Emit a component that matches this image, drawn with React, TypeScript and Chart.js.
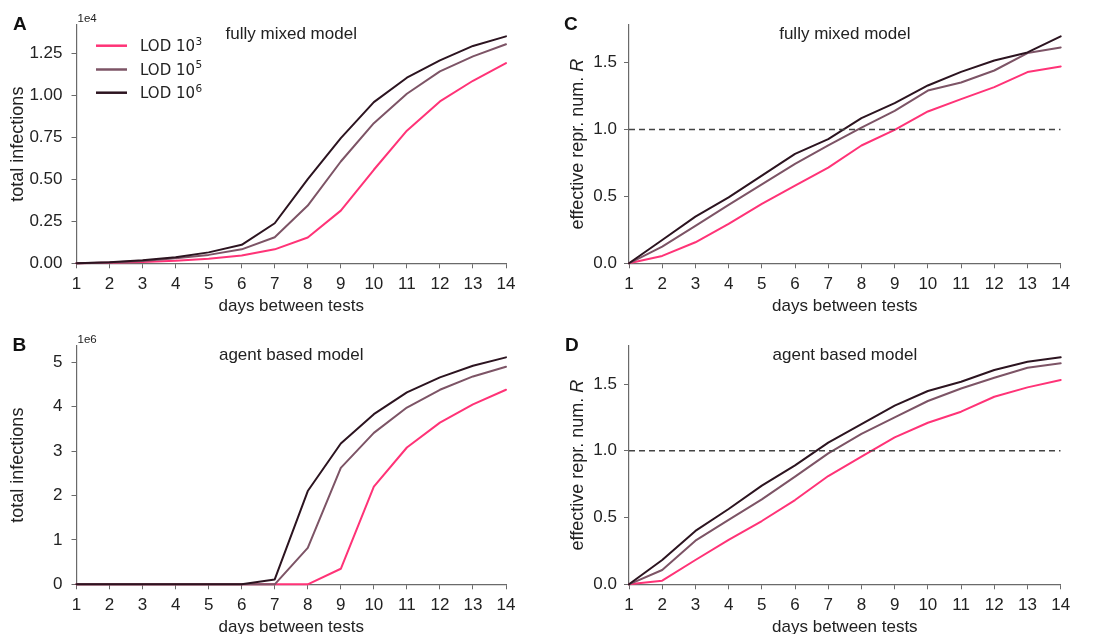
import React, { useEffect, useRef } from "react";
import { Chart, registerables } from "chart.js";

Chart.register(...registerables);

const FONT = '"Liberation Sans", Arial, Helvetica, sans-serif';
const LEGEND_FONT = '"DejaVu Sans", "Liberation Sans", sans-serif';
const TEXT = "#222222";
const AXIS = "#6a6a6a";

// ---------- data ----------
const days = [1, 2, 3, 4, 5, 6, 7, 8, 9, 10, 11, 12, 13, 14];
const lodBase = "LOD 10";
const lodExponents = ["3", "5", "6"];
const lodColors = ["#ff3377", "#7d5466", "#2c1420"];

// A: fully mixed model, total infections
const mixedInfLod3 = [0, 30, 80, 150, 270, 460, 830, 1530, 3130, 5560, 7880, 9620, 10850, 11900];
const mixedInfLod5 = [0, 50, 140, 300, 500, 830, 1550, 3430, 6050, 8330, 10080, 11410, 12300, 13020];
const mixedInfLod6 = [0, 60, 180, 360, 650, 1100, 2380, 5000, 7440, 9580, 11030, 12060, 12920, 13490];

// B: agent based model, total infections
const agentInfLod3 = [0, 0, 0, 0, 0, 0, 0, 0, 350000, 2200000, 3080000, 3640000, 4050000, 4380000];
const agentInfLod5 = [0, 0, 0, 0, 0, 0, 0, 820000, 2620000, 3410000, 3980000, 4380000, 4680000, 4900000];
const agentInfLod6 = [0, 0, 0, 0, 0, 0, 110000, 2100000, 3170000, 3830000, 4320000, 4660000, 4920000, 5110000];

// C: fully mixed model, effective R
const mixedRLod3 = [0, 0.055, 0.157, 0.294, 0.444, 0.581, 0.715, 0.88, 0.997, 1.134, 1.226, 1.316, 1.428, 1.47];
const mixedRLod5 = [0, 0.125, 0.279, 0.436, 0.59, 0.743, 0.88, 1.014, 1.139, 1.29, 1.35, 1.44, 1.57, 1.612];
const mixedRLod6 = [0, 0.174, 0.349, 0.493, 0.655, 0.817, 0.927, 1.084, 1.196, 1.328, 1.43, 1.515, 1.575, 1.695];

// D: agent based model, effective R
const agentRLod3 = [0, 0.027, 0.182, 0.332, 0.474, 0.631, 0.811, 0.956, 1.1, 1.21, 1.293, 1.405, 1.475, 1.53];
const agentRLod5 = [0, 0.107, 0.327, 0.482, 0.636, 0.806, 0.981, 1.126, 1.25, 1.373, 1.467, 1.547, 1.622, 1.655];
const agentRLod6 = [0, 0.182, 0.4, 0.564, 0.739, 0.891, 1.061, 1.2, 1.338, 1.448, 1.517, 1.605, 1.667, 1.7];

const thresholdR = 1.0;

const infTicksMixed = [0, 2500, 5000, 7500, 10000, 12500];
const infTicksAgent = [0, 1000000, 2000000, 3000000, 4000000, 5000000];
const rTicks = [0, 0.5, 1.0, 1.5];

const xTitle = "days between tests";
const yTitleInf = "total infections";
const yTitleR = "effective repr. num. ";
const yTitleRItalic = "R";
const titleMixed = "fully mixed model";
const titleAgent = "agent based model";

// ---------- drawing ----------
const CANVAS_H = 320;
const AREA_TOP = 25;
const AREA_BOTTOM = 263.3;

const decorPlugin = {
  id: "decor",
  afterDraw(chart: any, _args: any, opts: any) {
    const { ctx, chartArea } = chart;
    ctx.save();
    ctx.fillStyle = TEXT;
    // panel letter
    ctx.font = `bold 19px ${FONT}`;
    ctx.textAlign = "left";
    ctx.textBaseline = "alphabetic";
    ctx.fillStyle = "#111";
    ctx.fillText(opts.letter, opts.letterX, 29.5);
    ctx.fillStyle = TEXT;
    // offset text
    if (opts.offsetText) {
      ctx.font = `11.5px ${FONT}`;
      ctx.fillText(opts.offsetText, chartArea.left + 1, 21.8);
    }
    // title
    ctx.font = `17px ${FONT}`;
    ctx.textAlign = "center";
    ctx.fillText(opts.title, (chartArea.left + chartArea.right) / 2, 38.8);
    // y title with italic R
    if (opts.italicTitle) {
      const normalFont = `18px ${FONT}`;
      const italicFont = `italic 18px ${FONT}`;
      ctx.font = normalFont;
      const w1 = ctx.measureText(opts.italicTitle[0]).width;
      ctx.font = italicFont;
      const w2 = ctx.measureText(opts.italicTitle[1]).width;
      const cy = (chartArea.top + chartArea.bottom) / 2;
      ctx.translate(30, cy);
      ctx.rotate(-Math.PI / 2);
      ctx.textAlign = "left";
      ctx.font = normalFont;
      ctx.fillText(opts.italicTitle[0], -(w1 + w2) / 2, 0);
      ctx.font = italicFont;
      ctx.fillText(opts.italicTitle[1], -(w1 + w2) / 2 + w1, 0);
      ctx.setTransform(1, 0, 0, 1, 0, 0);
    }
    // legend
    if (opts.legend) {
      const rows = [45.7, 69.5, 92.7];
      lodExponents.forEach((exp, i) => {
        const y = rows[i];
        ctx.strokeStyle = lodColors[i];
        ctx.lineWidth = 2.5;
        ctx.beginPath();
        ctx.moveTo(96, y);
        ctx.lineTo(127, y);
        ctx.stroke();
        ctx.fillStyle = TEXT;
        ctx.textAlign = "left";
        ctx.font = `15px ${LEGEND_FONT}`;
        ctx.fillText(lodBase, 140, y + 5.4);
        const w = ctx.measureText(lodBase).width;
        ctx.font = `10.5px ${LEGEND_FONT}`;
        ctx.fillText(exp, 140 + w + 0.5, y - 1.2);
      });
    }
    ctx.restore();
  },
};

type PanelProps = {
  left: number;
  top: number;
  width: number;
  areaLeft: number;
  areaRight: number;
  tickPad: number;
  letter: string;
  letterX: number;
  title: string;
  series: number[][];
  yTicks: number[];
  fmt: (v: number) => string;
  yTitle?: string;
  italicTitle?: [string, string];
  offsetText?: string;
  threshold?: number;
  legend?: boolean;
};

function Panel(p: PanelProps) {
  const ref = useRef<HTMLCanvasElement | null>(null);
  useEffect(() => {
    if (!ref.current) return;
    const dataMax = Math.max(...p.series.flat());
    const yMax = dataMax * 1.05;
    const datasets: any[] = p.series.map((s, i) => ({
      label: lodBase + "^" + lodExponents[i],
      data: days.map((d, j) => ({ x: d, y: s[j] })),
      borderColor: lodColors[i],
      backgroundColor: lodColors[i],
      borderWidth: 2,
      pointRadius: 0,
      tension: 0,
      fill: false,
      clip: 6,
      order: 2 - i,
      borderJoinStyle: "round",
      borderCapStyle: "round",
    }));
    if (p.threshold !== undefined) {
      datasets.push({
        label: "R = 1",
        data: [
          { x: days[0], y: p.threshold },
          { x: days[days.length - 1], y: p.threshold },
        ],
        borderColor: "#444444",
        borderWidth: 1.5,
        borderDash: [6, 4],
        pointRadius: 0,
        fill: false,
        order: -1,
      });
    }
    const tickFont = { family: FONT, size: 17 };
    const chart = new Chart(ref.current, {
      type: "line",
      data: { datasets },
      plugins: [decorPlugin as any],
      options: {
        animation: false,
        responsive: false,
        maintainAspectRatio: false,
        layout: {
          padding: { top: AREA_TOP, right: p.width - p.areaRight, left: 0, bottom: 0 },
        },
        plugins: {
          legend: { display: false },
          tooltip: { enabled: false },
          decor: {
            letter: p.letter,
            letterX: p.letterX,
            title: p.title,
            offsetText: p.offsetText,
            italicTitle: p.italicTitle,
            legend: p.legend,
          },
        } as any,
        scales: {
          x: {
            type: "linear",
            min: days[0],
            max: days[days.length - 1],
            afterBuildTicks: (s: any) => {
              s.ticks = days.map((v) => ({ value: v }));
            },
            afterFit: (s: any) => {
              s.height = CANVAS_H - AREA_BOTTOM;
            },
            ticks: {
              font: tickFont,
              color: TEXT,
              padding: 6,
              autoSkip: false,
              maxRotation: 0,
              callback: (v: any) => String(v),
            },
            grid: {
              drawOnChartArea: false,
              drawTicks: true,
              tickLength: 5,
              tickColor: AXIS,
              tickWidth: 1,
              color: AXIS,
            },
            border: { display: true, color: AXIS, width: 1.2 },
            title: {
              display: true,
              text: xTitle,
              color: TEXT,
              font: { family: FONT, size: 17 },
              padding: { top: 0, bottom: 3 },
            },
          },
          y: {
            type: "linear",
            min: 0,
            max: yMax,
            afterBuildTicks: (s: any) => {
              s.ticks = p.yTicks.map((v) => ({ value: v }));
            },
            afterFit: (s: any) => {
              s.width = p.areaLeft;
            },
            ticks: {
              font: tickFont,
              color: TEXT,
              padding: p.tickPad,
              callback: (v: any) => p.fmt(Number(v)),
            },
            grid: {
              drawOnChartArea: false,
              drawTicks: true,
              tickLength: 5,
              tickColor: AXIS,
              tickWidth: 1,
              color: AXIS,
            },
            border: { display: true, color: AXIS, width: 1.2 },
            title: {
              display: !!p.yTitle,
              text: p.yTitle || "",
              color: TEXT,
              font: { family: FONT, size: 18 },
              padding: { top: 7, bottom: 0 },
            },
          },
        },
      } as any,
    });
    return () => chart.destroy();
  }, []);
  return (
    <div style={{ position: "absolute", left: p.left, top: p.top, width: p.width, height: CANVAS_H }}>
      <canvas
        ref={ref}
        width={p.width}
        height={CANVAS_H}
        style={{ display: "block", width: p.width, height: CANVAS_H }}
      />
    </div>
  );
}

export default function App() {
  return (
    <div
      style={{
        position: "fixed",
        left: 0,
        top: 0,
        width: 1107,
        height: 634,
        overflow: "hidden",
        background: "#ffffff",
      }}
    >
      <Panel
        left={0}
        top={0}
        width={553}
        areaLeft={76.5}
        areaRight={506}
        tickPad={9}
        letter="A"
        letterX={13}
        title={titleMixed}
        series={[mixedInfLod3, mixedInfLod5, mixedInfLod6]}
        yTicks={infTicksMixed}
        fmt={(v) => (v / 1e4).toFixed(2)}
        yTitle={yTitleInf}
        offsetText="1e4"
        legend
      />
      <Panel
        left={553}
        top={0}
        width={554}
        areaLeft={76}
        areaRight={507.7}
        tickPad={7}
        letter="C"
        letterX={11}
        title={titleMixed}
        series={[mixedRLod3, mixedRLod5, mixedRLod6]}
        yTicks={rTicks}
        fmt={(v) => v.toFixed(1)}
        italicTitle={[yTitleR, yTitleRItalic]}
        threshold={thresholdR}
      />
      <Panel
        left={0}
        top={321}
        width={553}
        areaLeft={76.5}
        areaRight={506}
        tickPad={9}
        letter="B"
        letterX={12.5}
        title={titleAgent}
        series={[agentInfLod3, agentInfLod5, agentInfLod6]}
        yTicks={infTicksAgent}
        fmt={(v) => String(Math.round(v / 1e6))}
        yTitle={yTitleInf}
        offsetText="1e6"
      />
      <Panel
        left={553}
        top={321}
        width={554}
        areaLeft={76}
        areaRight={507.7}
        tickPad={7}
        letter="D"
        letterX={12}
        title={titleAgent}
        series={[agentRLod3, agentRLod5, agentRLod6]}
        yTicks={rTicks}
        fmt={(v) => v.toFixed(1)}
        italicTitle={[yTitleR, yTitleRItalic]}
        threshold={thresholdR}
      />
    </div>
  );
}
